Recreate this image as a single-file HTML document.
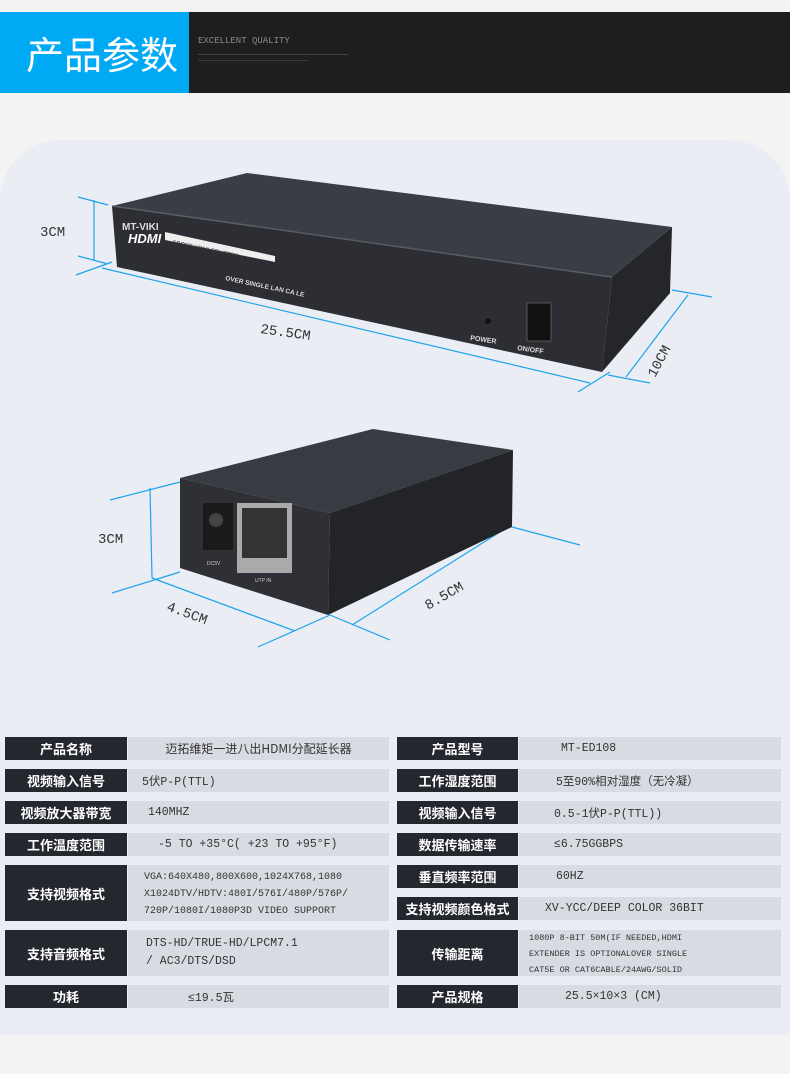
<!DOCTYPE html>
<html><head><meta charset="utf-8"><style>
*{margin:0;padding:0;box-sizing:border-box}
body{width:790px;height:1074px;background:#f3f3f3;position:relative;overflow:hidden;font-family:"Liberation Sans","Noto Sans CJK SC",sans-serif}
.hdr{position:absolute;left:0;top:12px;width:790px;height:81px;background:#1e1e1e}
.blue{position:absolute;left:0;top:0;width:189px;height:81px;background:#00a9f4;color:#fff;font-size:38px;line-height:81px;padding-left:26px;font-family:"Noto Sans CJK SC",sans-serif}
.eq{position:absolute;left:198px;top:24px;color:#8a8a8a;font-size:9px;font-family:"Liberation Mono",monospace}
.panel{position:absolute;left:0;top:140px;width:790px;height:895px;background:#eaedf4;border-radius:60px 60px 0 0}
.c{position:absolute;height:23px;font-size:12px;display:flex;align-items:center}
.l{background:#25272e;color:#fff;font-weight:bold;font-size:13px;justify-content:center;font-family:"Noto Sans CJK SC",sans-serif}
.v{background:#d8dbe1;color:#333;font-family:"Liberation Mono","Noto Sans CJK SC",monospace;font-size:11.5px}
.small{font-size:9.5px;line-height:16px;display:block;padding-top:1px}
.mid{line-height:17px;display:block;padding-top:3px}
</style></head><body>
<div class="hdr"><div class="blue">产品参数</div><div class="eq">EXCELLENT QUALITY</div>
<div style="position:absolute;left:198px;top:42px;width:150px;height:1px;background:#444"></div>
<div style="position:absolute;left:198px;top:48px;width:110px;height:1px;background:#3a3a3a"></div></div>
<div class="panel"></div>
<svg width="790" height="1074" style="position:absolute;left:0;top:0">
<g stroke="#1fa3ec" stroke-width="1.2" fill="none">
<line x1="78" y1="197" x2="108" y2="205"/><line x1="78" y1="256" x2="108" y2="264"/><line x1="94" y1="200" x2="94" y2="260"/>
<line x1="76" y1="275" x2="112" y2="262"/><line x1="102" y1="268" x2="590" y2="383"/><line x1="578" y1="392" x2="610" y2="372"/>
<line x1="608" y1="375" x2="650" y2="383"/><line x1="626" y1="377" x2="688" y2="295"/><line x1="672" y1="290" x2="712" y2="297"/>
<line x1="110" y1="500" x2="180" y2="482"/><line x1="150" y1="488" x2="152" y2="578"/><line x1="112" y1="593" x2="180" y2="572"/>
<line x1="152" y1="578" x2="295" y2="631"/><line x1="258" y1="647" x2="330" y2="615"/><line x1="330" y1="615" x2="390" y2="640"/>
<line x1="352" y1="625" x2="500" y2="532"/><line x1="512" y1="527" x2="580" y2="545"/>
</g>
<polygon points="247,173 672,227 612,277 112,206" fill="#3a3d44"/>
<polygon points="112,206 612,277 602,372 117,267" fill="#2c2e33"/>
<polygon points="612,277 672,227 670,293 602,372" fill="#24262a"/>
<line x1="112" y1="206" x2="612" y2="277" stroke="#5a5d64" stroke-width="1.5"/>
<text x="122" y="230" fill="#ddd" font-size="10" font-weight="bold" font-family="Liberation Sans">MT-VIKI</text>
<text x="128" y="243" fill="#fff" font-size="13" font-weight="bold" font-style="italic" font-family="Liberation Sans">HDMI</text>
<polygon points="165,232 275,256 275,262 165,240" fill="#eee"/>
<text x="172" y="244" transform="rotate(12 172 244)" fill="#333" font-size="6" font-family="Liberation Sans">SPORT HDMI SPLITTER</text>
<text x="225" y="280" transform="rotate(12 225 280)" fill="#ddd" font-size="6.5" font-weight="bold" font-family="Liberation Sans">OVER SINGLE LAN CA LE</text>
<circle cx="488" cy="321" r="3" fill="#111"/>
<text x="470" y="340" transform="rotate(8 470 340)" fill="#ddd" font-size="7" font-weight="bold" font-family="Liberation Sans">POWER</text>
<rect x="527" y="303" width="24" height="38" fill="#111" stroke="#555"/>
<text x="517" y="350" transform="rotate(8 517 350)" fill="#ddd" font-size="7" font-weight="bold" font-family="Liberation Sans">ON/OFF</text>
<polygon points="180,478 373,429 513,450 330,513" fill="#383b41"/>
<polygon points="180,478 330,513 328,615 180,568" fill="#2e3035"/>
<polygon points="330,513 513,450 512,527 328,615" fill="#222428"/>
<rect x="203" y="503" width="30" height="47" fill="#1a1a1a"/><circle cx="216" cy="520" r="7" fill="#444"/>
<rect x="237" y="503" width="55" height="70" fill="#aaa"/><rect x="242" y="508" width="45" height="50" fill="#333"/>
<text x="207" y="565" fill="#ccc" font-size="5" font-family="Liberation Sans">DC5V</text>
<text x="255" y="582" fill="#ccc" font-size="5" font-family="Liberation Sans">UTP IN</text>
<g font-family="Liberation Mono" font-size="14" fill="#333">
<text x="40" y="236">3CM</text><text x="260" y="333" transform="rotate(8 260 333)">25.5CM</text>
<text x="655" y="378" transform="rotate(-62 655 378)">10CM</text>
<text x="98" y="543">3CM</text><text x="166" y="610" transform="rotate(20 166 610)">4.5CM</text>
<text x="428" y="610" transform="rotate(-30 428 610)">8.5CM</text></g>
</svg>
<div class="c l" style="left:5px;top:737px;width:122px">产品名称</div><div class="c v" style="left:128px;top:737px;width:261px;justify-content:center;font-family:'Noto Sans CJK SC';font-size:12px">迈拓维矩一进八出HDMI分配延长器</div>
<div class="c l" style="left:5px;top:769px;width:122px">视频输入信号</div><div class="c v" style="left:128px;top:769px;width:261px;padding-left:14px">5伏P-P(TTL)</div>
<div class="c l" style="left:5px;top:801px;width:122px">视频放大器带宽</div><div class="c v" style="left:128px;top:801px;width:261px;padding-left:20px">140MHZ</div>
<div class="c l" style="left:5px;top:833px;width:122px">工作温度范围</div><div class="c v" style="left:128px;top:833px;width:261px;padding-left:30px">-5 TO +35°C( +23 TO +95°F)</div>
<div class="c l" style="left:5px;top:865px;width:122px;height:56px">支持视频格式</div><div class="c v" style="left:128px;top:865px;width:261px;height:56px;padding-left:16px;font-size:10px"><span class="mid">VGA:640X480,800X600,1024X768,1080<br>X1024DTV/HDTV:480I/576I/480P/576P/<br>720P/1080I/1080P3D VIDEO SUPPORT</span></div>
<div class="c l" style="left:5px;top:930px;width:122px;height:46px">支持音频格式</div><div class="c v" style="left:128px;top:930px;width:261px;height:46px;padding-left:18px"><span style="line-height:18px">DTS-HD/TRUE-HD/LPCM7.1<br>/ AC3/DTS/DSD</span></div>
<div class="c l" style="left:5px;top:985px;width:122px">功耗</div><div class="c v" style="left:128px;top:985px;width:261px;padding-left:60px">≤19.5瓦</div>
<div class="c l" style="left:397px;top:737px;width:121px">产品型号</div><div class="c v" style="left:519px;top:737px;width:262px;padding-left:42px">MT-ED108</div>
<div class="c l" style="left:397px;top:769px;width:121px">工作湿度范围</div><div class="c v" style="left:519px;top:769px;width:262px;padding-left:37px">5至90%相对湿度（无冷凝）</div>
<div class="c l" style="left:397px;top:801px;width:121px">视频输入信号</div><div class="c v" style="left:519px;top:801px;width:262px;padding-left:35px">0.5-1伏P-P(TTL))</div>
<div class="c l" style="left:397px;top:833px;width:121px">数据传输速率</div><div class="c v" style="left:519px;top:833px;width:262px;padding-left:35px">≤6.75GGBPS</div>
<div class="c l" style="left:397px;top:865px;width:121px">垂直频率范围</div><div class="c v" style="left:519px;top:865px;width:262px;padding-left:37px">60HZ</div>
<div class="c l" style="left:397px;top:897px;width:121px">支持视频颜色格式</div><div class="c v" style="left:519px;top:897px;width:262px;padding-left:26px">XV-YCC/DEEP COLOR 36BIT</div>
<div class="c l" style="left:397px;top:930px;width:121px;height:46px">传输距离</div><div class="c v" style="left:519px;top:930px;width:262px;height:46px;padding-left:10px"><span class="small" style="font-size:8.5px">1080P 8-BIT 50M(IF NEEDED,HDMI<br>EXTENDER IS OPTIONALOVER SINGLE<br>CAT5E OR CAT6CABLE/24AWG/SOLID</span></div>
<div class="c l" style="left:397px;top:985px;width:121px">产品规格</div><div class="c v" style="left:519px;top:985px;width:262px;padding-left:46px">25.5×10×3 (CM)</div>
</body></html>
